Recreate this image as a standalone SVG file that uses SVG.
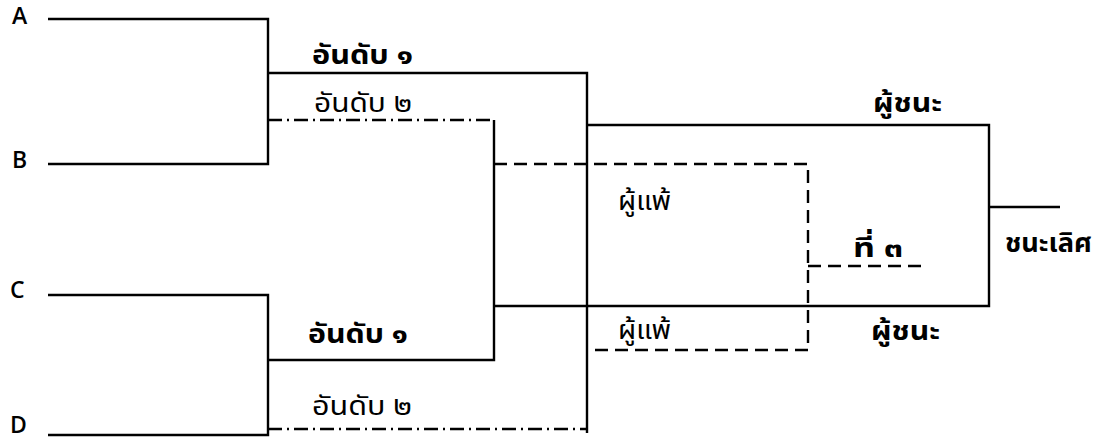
<svg xmlns="http://www.w3.org/2000/svg" width="1109" height="441" viewBox="0 0 1109 441">
<style>
.ln{stroke:#000;stroke-width:2.4;fill:none;stroke-linecap:butt}
.dd{stroke-dasharray:13 7}
.dt{stroke-dasharray:14 5 2 5}
.lab{font-family:"Open Sans","DejaVu Sans",sans-serif;font-size:23px;font-weight:600;fill:#000}
.th{font-family:"Noto Sans Thai","Noto Sans","DejaVu Sans",sans-serif;font-size:27px;fill:#000}
.b{font-weight:bold}
</style>
<rect width="1109" height="441" fill="#fff"/>
<g id="connectors">
<path class="ln" d="M48 19H268V164H48"/>
<path class="ln" d="M48 295H268V435H48"/>
<path class="ln" d="M268 73H587V433"/>
<path class="ln dt" d="M268 120H494"/>
<path class="ln" d="M494 120V360H268"/>
<path class="ln dt" d="M268 429H587"/>
<path class="ln" d="M587 125H989V306H494"/>
<path class="ln" d="M989 207H1060"/>
<path class="ln dd" d="M494 164H808V350H587"/>
<path class="ln dd" d="M808 266H925"/>
</g>
<g id="node-A"><text class="lab" x="12" y="24">A</text></g>
<g id="node-B"><text class="lab" x="12" y="168">B</text></g>
<g id="node-C"><text class="lab" x="10" y="298">C</text></g>
<g id="node-D"><text class="lab" x="10" y="433">D</text></g>
<g id="label-ab1-top"><text class="th b" x="312" y="64" textLength="101" lengthAdjust="spacingAndGlyphs">อันดับ ๑</text></g>
<g id="label-ab2-top"><text class="th" x="314" y="112" textLength="98" lengthAdjust="spacingAndGlyphs">อันดับ ๒</text></g>
<g id="label-ab1-bot"><text class="th b" x="308" y="343" textLength="100" lengthAdjust="spacingAndGlyphs">อันดับ ๑</text></g>
<g id="label-ab2-bot"><text class="th" x="312" y="415" textLength="100" lengthAdjust="spacingAndGlyphs">อันดับ ๒</text></g>
<g id="label-win-top"><text class="th b" x="873" y="112" textLength="69" lengthAdjust="spacingAndGlyphs">ผู้ชนะ</text></g>
<g id="label-win-bot"><text class="th b" x="871" y="340" textLength="69" lengthAdjust="spacingAndGlyphs">ผู้ชนะ</text></g>
<g id="label-lose-top"><text class="th" x="618" y="210" textLength="53" lengthAdjust="spacingAndGlyphs">ผู้แพ้</text></g>
<g id="label-lose-bot"><text class="th" x="618" y="339" textLength="53" lengthAdjust="spacingAndGlyphs">ผู้แพ้</text></g>
<g id="label-third"><text class="th b" x="853" y="257" textLength="50" lengthAdjust="spacingAndGlyphs">ที่ ๓</text></g>
<g id="label-champ"><text class="th b" x="1005" y="252" textLength="87" lengthAdjust="spacingAndGlyphs">ชนะเลิศ</text></g>
</svg>
